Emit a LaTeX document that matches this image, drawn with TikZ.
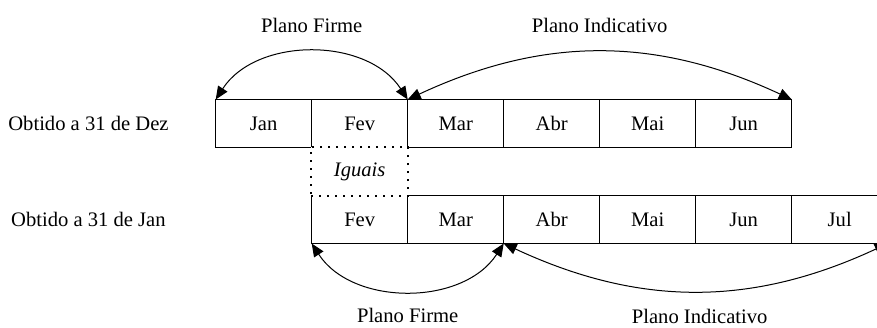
\documentclass[tikz,border=0pt]{standalone}
\usepackage{fontspec}
\setmainfont{Liberation Serif}
\usetikzlibrary{positioning,arrows.meta,calc}

\begin{document}
\begin{tikzpicture}[x=0.5pt,y=-0.5pt,line width=0.5pt,
    font=\fontsize{10.3}{12}\selectfont,
    mes/.style={draw, minimum width=48pt, minimum height=24pt, inner sep=0pt, outer sep=0pt},
    igual/.style={draw, fill=white, dash pattern=on 1pt off 3pt, line width=1pt,
                  minimum width=48.5pt, minimum height=24.5pt, inner sep=0pt, font=\fontsize{10.3}{12}\selectfont\itshape},
    plano/.style={{Triangle[length=6.5pt,width=5.5pt]}-{Triangle[length=6.5pt,width=5.5pt]}}]
      \useasboundingbox (0,0) rectangle (877,327);
      \clip (0,0) rectangle (877,327);

      % plano de 31 de Dezembro
      \node[mes] (jan) at (263.7,123.5) {Jan};
      \node[mes, right=0pt of jan] (fev) {Fev};
      \node[mes, right=0pt of fev] (mar) {Mar};
      \node[mes, right=0pt of mar] (abr) {Abr};
      \node[mes, right=0pt of abr] (mai) {Mai};
      \node[mes, right=0pt of mai] (jun) {Jun};

      % plano de 31 de Janeiro
      \node[mes, below=24pt of fev] (fevb) {Fev};
      \node[mes, right=0pt of fevb] (marb) {Mar};
      \node[mes, right=0pt of marb] (abrb) {Abr};
      \node[mes, right=0pt of abrb] (maib) {Mai};
      \node[mes, right=0pt of maib] (junb) {Jun};
      \node[mes, right=0pt of junb] (julb) {Jul};

      \node[igual] (iguais) at ($(fev.south)!0.5!(fevb.north)$) {Iguais};

      \node[left=20pt of jan] (dez) {Obtido a 31 de Dez};
      \node (jan31) at (dez |- fevb) {Obtido a 31 de Jan};

      \draw[plano] (jan.north west) to[bend left=57]
            node[midway, yshift=13.5pt] {Plano Firme} (fev.north east);
      \draw[plano] (fev.north east) to[bend left=25]
            node[midway, yshift=13.5pt] {Plano Indicativo} (jun.north east);
      \draw[plano] (fevb.south west) to[bend right=57]
            node[midway, yshift=-12.5pt] {Plano Firme} (marb.south east);
      \draw[plano] (marb.south east) to[bend right=25]
            node[midway, yshift=-12.5pt, xshift=2pt] {Plano Indicativo} (julb.south east);
\end{tikzpicture}
\end{document}
